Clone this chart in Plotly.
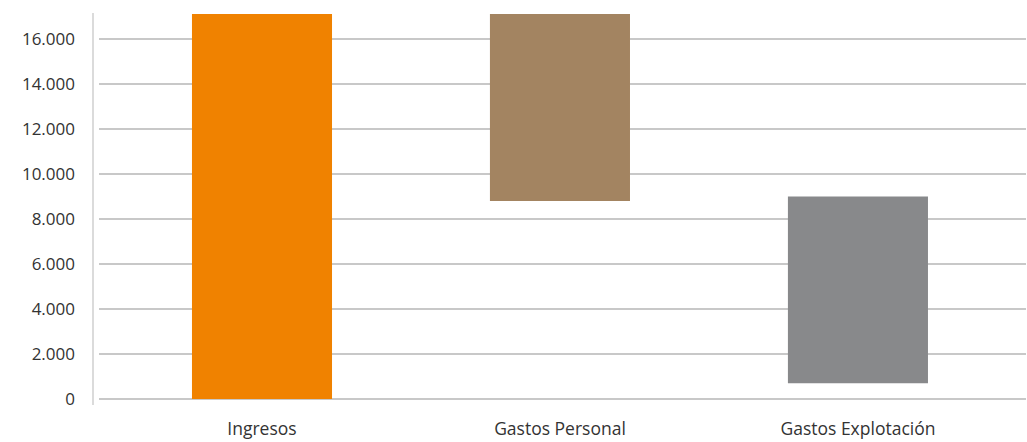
import plotly.graph_objects as go

categories = ["Ingresos", "Gastos Personal", "Gastos Explotación"]
bar_bottom = [0, 8800, 700]
bar_top = [17500, 17500, 9000]
colors = ["#F08200", "#A38461", "#88898B"]
y_ticks = [0, 2000, 4000, 6000, 8000, 10000, 12000, 14000, 16000]

heights = [t - b for t, b in zip(bar_top, bar_bottom)]

fig = go.Figure(go.Bar(
    x=categories, y=heights, base=bar_bottom,
    marker=dict(color=colors, line=dict(width=0)),
    width=0.47,
))

W, H = 1027, 442
ml, mr, mt, mb = 99, 1, 14, 43
pw = W - ml - mr
ph = H - mt - mb

fig.update_layout(
    width=W, height=H,
    margin=dict(l=ml, r=mr, t=mt, b=mb),
    paper_bgcolor="white", plot_bgcolor="white",
    separators=",.",
    showlegend=False,
    font=dict(family="Open Sans", size=17, color="#333333"),
    xaxis=dict(range=[-0.547, 2.564], showgrid=False, showline=False,
               ticks="", ticklabelstandoff=17, tickfont=dict(size=17.5)),
    yaxis=dict(range=[0, 17111], tickvals=y_ticks, tickformat=",d",
               showgrid=True, gridcolor="#C8C8C8", gridwidth=1.3,
               zeroline=True, zerolinecolor="#C8C8C8", zerolinewidth=1.3,
               showline=False, ticks="", ticklabelstandoff=23,
               tickfont=dict(size=17)),
    shapes=[dict(type="line", xref="paper", yref="paper",
                 x0=-6 / pw, x1=-6 / pw, y0=-6 / ph, y1=1.0 + 1 / ph,
                 line=dict(color="#C8C8C8", width=1.3))],
)

# remove the default page margin so the 1027x442 figure fills the window exactly
fig.write_html(
    "out.html",
    config={"displayModeBar": False, "staticPlot": True},
    post_script="document.body.style.margin='0px';document.body.style.overflow='hidden';",
)
